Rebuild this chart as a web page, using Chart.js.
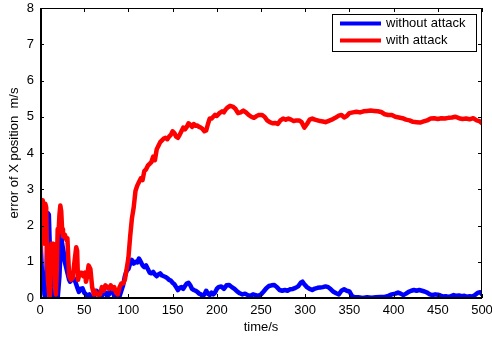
<!DOCTYPE html>
<html>
<head>
<meta charset="utf-8">
<script src="https://cdn.jsdelivr.net/npm/chart.js@4/dist/chart.umd.min.js"></script>
<style>
  html, body { margin: 0; padding: 0; background: #fff; }
  #wrap { width: 492px; height: 337px; }
</style>
</head>
<body>
<div id="wrap"><canvas id="chart" width="492" height="337"></canvas></div>
<script>
// series labels
const seriesNames = ['without attack', 'with attack'];

// without attack (blue)
const blueTime = [0, 1, 2, 3, 4, 5, 6, 7, 8, 9, 10, 11, 12, 13, 14, 15, 16, 17, 19, 20, 21, 22, 23, 24, 25, 27, 28, 30, 31, 33, 34, 36, 38, 40, 42, 44, 46, 48, 50, 52, 54, 56, 58, 60, 62, 64, 66, 68, 70, 72, 74, 76, 78, 80, 82, 84, 86, 88, 90, 92, 94, 96, 98, 100, 102, 104, 106, 108, 110, 112, 114, 116, 118, 120, 122, 124, 126, 128, 130, 132, 134, 136, 138, 140, 142, 144, 146, 148, 150, 152, 154, 156, 158, 160, 162, 164, 166, 168, 170, 172, 174, 176, 178, 180, 182, 184, 186, 188, 190, 192, 194, 196, 198, 200, 202, 205, 208, 211, 214, 217, 220, 223, 226, 229, 232, 235, 238, 241, 244, 247, 250, 253, 256, 259, 262, 265, 268, 271, 274, 277, 280, 283, 286, 289, 292, 295, 297, 299, 302, 305, 308, 311, 314, 317, 320, 323, 326, 329, 332, 335, 338, 341, 344, 347, 350, 353, 356, 360, 365, 370, 375, 380, 385, 390, 394, 398, 402, 405, 408, 411, 414, 417, 420, 423, 426, 429, 432, 435, 438, 441, 444, 447, 450, 453, 456, 459, 462, 465, 468, 471, 474, 477, 480, 483, 486, 489, 492, 495, 498, 500];
const blueError = [2.0, 2.0, 0.8, 0.2, 0.6, 0.1, 0.0, 0.5, 1.4, 2.34, 2.3, 1.5, 0.8, 0.3, 0.0, 0.0, 0.2, 0.0, 0.0, 0.0, 0.3, 0.6, 1.2, 1.74, 1.5, 1.23, 1.0, 0.8, 0.7, 0.5, 0.45, 0.5, 0.55, 0.45, 0.3, 0.17, 0.25, 0.27, 0.15, 0.1, 0.05, 0.1, 0.0, 0.0, 0.1, 0.2, 0.15, 0.0, 0.05, 0.2, 0.15, 0.05, 0.1, 0.3, 0.2, 0.05, 0.0, 0.1, 0.05, 0.2, 0.35, 0.6, 0.75, 0.8, 0.95, 1.05, 0.95, 1.0, 0.98, 1.09, 1.0, 0.9, 0.85, 0.9, 0.8, 0.7, 0.68, 0.72, 0.65, 0.6, 0.65, 0.68, 0.62, 0.6, 0.58, 0.55, 0.5, 0.48, 0.42, 0.38, 0.3, 0.22, 0.28, 0.3, 0.25, 0.33, 0.4, 0.42, 0.35, 0.25, 0.22, 0.2, 0.17, 0.12, 0.1, 0.05, 0.1, 0.2, 0.12, 0.08, 0.15, 0.1, 0.15, 0.25, 0.3, 0.32, 0.25, 0.35, 0.36, 0.3, 0.25, 0.18, 0.13, 0.1, 0.12, 0.08, 0.06, 0.1, 0.08, 0.06, 0.1, 0.18, 0.27, 0.33, 0.35, 0.36, 0.3, 0.22, 0.2, 0.22, 0.2, 0.24, 0.25, 0.28, 0.32, 0.42, 0.45, 0.38, 0.3, 0.25, 0.22, 0.26, 0.28, 0.29, 0.3, 0.32, 0.3, 0.24, 0.17, 0.13, 0.1, 0.2, 0.24, 0.2, 0.18, 0.05, 0.02, 0.02, 0.0, 0.02, 0.01, 0.02, 0.03, 0.03, 0.06, 0.1, 0.12, 0.15, 0.12, 0.08, 0.12, 0.17, 0.2, 0.22, 0.2, 0.22, 0.2, 0.18, 0.15, 0.1, 0.08, 0.1, 0.09, 0.07, 0.04, 0.05, 0.03, 0.05, 0.08, 0.06, 0.07, 0.05, 0.06, 0.03, 0.05, 0.04, 0.08, 0.14, 0.16, 0.1];

// with attack (red)
const redTime = [0, 1, 3, 4, 5, 6, 7, 8, 9, 10, 11, 12, 13, 14, 15, 16, 17, 18, 19, 20, 21, 22, 23, 24, 25, 26, 28, 30, 31, 32, 33, 35, 37, 39, 41, 42, 43, 45, 47, 49, 51, 52, 53, 55, 57, 59, 61, 62, 64, 66, 68, 70, 72, 74, 76, 78, 80, 82, 84, 86, 88, 90, 92, 94, 96, 98, 100, 102, 104, 106, 108, 110, 112, 114, 116, 118, 120, 122, 124, 126, 128, 130, 132, 134, 136, 138, 140, 142, 144, 146, 148, 150, 152, 154, 156, 158, 160, 162, 164, 166, 168, 170, 172, 174, 176, 178, 180, 182, 184, 186, 188, 190, 192, 194, 196, 198, 200, 203, 206, 208, 210, 212, 215, 218, 221, 224, 227, 230, 233, 236, 239, 242, 245, 248, 251, 254, 257, 260, 263, 266, 269, 272, 275, 278, 281, 284, 287, 290, 293, 296, 299, 302, 305, 308, 311, 314, 317, 320, 323, 326, 330, 334, 338, 341, 344, 347, 350, 354, 358, 362, 366, 370, 374, 378, 382, 386, 390, 394, 398, 402, 406, 410, 414, 418, 422, 426, 430, 434, 438, 442, 446, 450, 454, 458, 462, 466, 470, 474, 478, 482, 486, 490, 494, 497, 500];
const redError = [1.0, 1.0, 2.7, 2.5, 1.5, 2.6, 2.5, 1.0, 0.5, 0.2, 0.0, 1.2, 1.5, 0.8, 1.5, 1.4, 0.3, 0.1, 0.8, 1.9, 1.8, 2.3, 2.55, 2.4, 1.9, 1.7, 1.75, 1.6, 1.65, 1.1, 0.6, 0.5, 0.55, 1.0, 1.4, 1.3, 0.5, 0.7, 0.7, 0.6, 0.7, 0.45, 0.55, 0.9, 0.8, 0.3, 0.1, 0.2, 0.1, 0.1, 0.1, 0.3, 0.2, 0.35, 0.3, 0.25, 0.35, 0.25, 0.3, 0.15, 0.1, 0.3, 0.4, 0.4, 0.5, 0.8, 1.1, 1.7, 2.2, 2.5, 2.95, 3.1, 3.2, 3.3, 3.25, 3.5, 3.55, 3.65, 3.7, 3.75, 3.9, 3.8, 4.1, 4.2, 4.3, 4.35, 4.4, 4.42, 4.38, 4.45, 4.5, 4.6, 4.55, 4.45, 4.42, 4.5, 4.6, 4.7, 4.65, 4.72, 4.82, 4.78, 4.72, 4.8, 4.75, 4.76, 4.72, 4.7, 4.66, 4.6, 4.62, 4.8, 4.95, 4.95, 5.0, 5.05, 5.02, 5.1, 5.15, 5.12, 5.2, 5.25, 5.3, 5.28, 5.22, 5.1, 5.12, 5.17, 5.12, 5.05, 5.0, 4.97, 5.02, 5.05, 5.05, 5.0, 4.9, 4.85, 4.82, 4.83, 4.8, 4.9, 4.95, 4.92, 4.95, 4.92, 4.88, 4.9, 4.9, 4.85, 4.7, 4.8, 4.92, 4.95, 4.92, 4.9, 4.88, 4.87, 4.85, 4.88, 4.92, 4.97, 5.03, 5.05, 4.98, 5.02, 5.1, 5.12, 5.14, 5.12, 5.15, 5.16, 5.17, 5.16, 5.15, 5.13, 5.07, 5.05, 5.05, 5.0, 4.98, 4.96, 4.92, 4.9, 4.86, 4.85, 4.84, 4.87, 4.9, 4.95, 4.96, 4.94, 4.96, 4.95, 4.97, 4.98, 5.0, 4.96, 4.94, 4.95, 4.93, 4.96, 4.9, 4.88, 4.82];

const xTicks = [0, 50, 100, 150, 200, 250, 300, 350, 400, 450, 500];
const yTicks = [0, 1, 2, 3, 4, 5, 6, 7, 8];

const FONT = "'Liberation Sans', Arial, Helvetica, sans-serif";

const toPoints = (ts, vs) => ts.map((t, i) => ({ x: t, y: vs[i] }));

// matlab style box, inward ticks and boxed legend
const matlabAxes = {
  id: 'matlabAxes',
  afterDraw(chart) {
    const c = chart.ctx;
    const a = chart.chartArea;
    const xs = chart.scales.x, ys = chart.scales.y;
    c.save();
    c.strokeStyle = '#000';
    c.lineWidth = 1;
    // ticks
    c.beginPath();
    xTicks.forEach((v) => {
      const px = Math.round(xs.getPixelForValue(v)) + 0.5;
      c.moveTo(px, a.bottom); c.lineTo(px, a.bottom - 4);
      c.moveTo(px, a.top); c.lineTo(px, a.top + 4);
    });
    yTicks.forEach((v) => {
      const py = Math.round(ys.getPixelForValue(v)) + 0.5;
      c.moveTo(a.left, py); c.lineTo(a.left + 4, py);
      c.moveTo(a.right, py); c.lineTo(a.right - 4, py);
    });
    c.stroke();
    // box
    c.lineWidth = 1;
    c.strokeRect(a.left + 0.5, a.top + 0.5, a.right - a.left - 1, a.bottom - a.top - 1);
    c.lineWidth = 2;
    c.beginPath();
    c.moveTo(a.left + 1, a.top); c.lineTo(a.left + 1, a.bottom);
    c.lineTo(a.right, a.bottom);
    c.stroke();

    // legend
    const w = 144, h = 37;
    const lx = a.right - 6 - w, ly = a.top + 6;
    c.fillStyle = '#fff';
    c.fillRect(lx, ly, w, h);
    c.lineWidth = 1;
    c.strokeRect(lx + 0.5, ly + 0.5, w, h);
    c.font = '13px ' + FONT;
    c.textBaseline = 'middle';
    chart.data.datasets.forEach((ds, i) => {
      const yy = ly + 9.5 + i * 17;
      c.strokeStyle = ds.borderColor;
      c.lineWidth = 4;
      c.beginPath();
      c.moveTo(lx + 8, yy); c.lineTo(lx + 49, yy);
      c.stroke();
      c.fillStyle = '#000';
      c.fillText(ds.label, lx + 54, yy);
    });
    c.restore();
  },
};

new Chart(document.getElementById('chart'), {
  type: 'line',
  data: {
    datasets: [
      {
        label: seriesNames[0],
        data: toPoints(blueTime, blueError),
        borderColor: '#0000ff',
        backgroundColor: '#0000ff',
        borderWidth: 4.5,
        borderJoinStyle: 'round',
        borderCapStyle: 'round',
        pointRadius: 0,
        tension: 0,
        order: 1,
      },
      {
        label: seriesNames[1],
        data: toPoints(redTime, redError),
        borderColor: '#ff0000',
        backgroundColor: '#ff0000',
        borderWidth: 4.5,
        borderJoinStyle: 'round',
        borderCapStyle: 'round',
        pointRadius: 0,
        tension: 0,
        order: 0,
      },
    ],
  },
  options: {
    responsive: false,
    animation: false,
    events: [],
    layout: { padding: { top: 8, right: 10, left: 0, bottom: 0 } },
    plugins: {
      legend: { display: false },
      tooltip: { enabled: false },
    },
    scales: {
      x: {
        type: 'linear',
        min: 0,
        max: 500,
        afterBuildTicks: (s) => { s.ticks = xTicks.map((v) => ({ value: v })); },
        afterFit: (s) => { s.height = 39; s.paddingLeft = 0; s.paddingRight = 0; },
        grid: { display: false, drawTicks: false },
        border: { display: false },
        ticks: { color: '#000', padding: 5, maxRotation: 0, font: { family: FONT, size: 13 } },
        title: {
          display: true,
          text: 'time/s',
          color: '#000',
          padding: { top: 0, bottom: 2 },
          font: { family: FONT, size: 13 },
        },
      },
      y: {
        min: 0,
        max: 8,
        afterBuildTicks: (s) => { s.ticks = yTicks.map((v) => ({ value: v })); },
        afterFit: (s) => { s.width = 40; s.paddingTop = 0; s.paddingBottom = 0; },
        grid: { display: false, drawTicks: false },
        border: { display: false },
        ticks: { color: '#000', padding: 6, font: { family: FONT, size: 13 } },
        title: {
          display: true,
          text: 'error of X position  m/s',
          color: '#000',
          padding: { top: 7, bottom: 0 },
          font: { family: FONT, size: 13 },
        },
      },
    },
  },
  plugins: [matlabAxes],
});
</script>
</body>
</html>
